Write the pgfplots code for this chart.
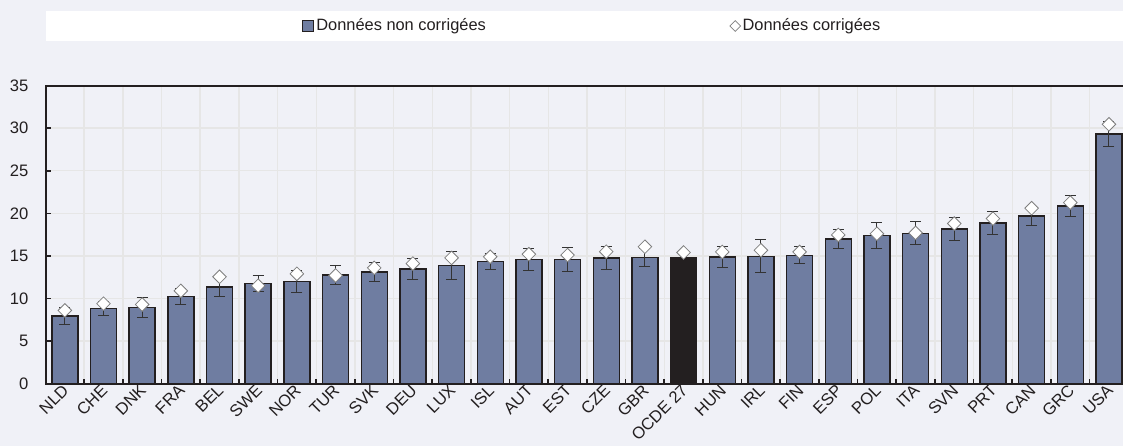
\documentclass[border=0pt]{standalone}
\usepackage{pgfplots}
\pgfplotsset{compat=1.18}
\usepackage{pgfplotstable}
\usepackage{fontspec}
\setmainfont{Liberation Sans}

\definecolor{bg}{HTML}{F0F1F7}
\definecolor{barblue}{HTML}{6F7DA1}
\definecolor{dark}{HTML}{231F20}
\definecolor{gridgray}{HTML}{E6E6E6}
\definecolor{errgray}{HTML}{333333}
\definecolor{markgray}{HTML}{7F7F7F}

\pgfplotsset{
  barlegend/.style={legend image code/.code={%
    \draw[##1, line width=0.5pt] (0pt,-2.75pt) rectangle (5.5pt,2.75pt);}},
  diamondlegend/.style={legend image code/.code={%
    \draw[##1, mark size=1.9pt] plot coordinates {(2.7pt,0pt)};}},
}

% x, uncorrected value, error
\pgfplotstableread{
x  val    err
0  7.95   0.95
1  8.85   0.80
2  8.97   1.15
3  10.27  0.95
4  11.37  1.10
5  11.76  0.92
6  11.99  1.30
7  12.77  1.13
8  13.09  1.10
9  13.44  1.20
10 13.87  1.68
11 14.34  0.95
12 14.57  1.25
13 14.57  1.38
14 14.77  1.38
15 14.84  1.04
17 14.88  1.20
18 14.96  1.92
19 15.08  0.98
20 17.00  1.15
21 17.38  1.52
22 17.66  1.35
23 18.16  1.38
24 18.87  1.38
25 19.69  1.14
26 20.86  1.27
27 29.30  1.45
}\uncorr

\pgfplotstableread{
x  corr
0  8.60
1  9.40
2  9.30
3  10.90
4  12.55
5  11.50
6  12.90
7  12.70
8  13.60
9  14.10
10 14.77
11 14.90
12 15.20
13 15.10
14 15.50
15 16.08
16 15.40
17 15.47
18 15.66
19 15.47
20 17.46
21 17.60
22 17.70
23 18.80
24 19.38
25 20.60
26 21.25
27 30.45
}\corr

\begin{document}
\begin{tikzpicture}[x=1pt,y=1pt]
\fill[bg] (0,0) rectangle (561.5,223);
\useasboundingbox (0,0) rectangle (561.5,223);
\fill[white] (22.75,202.5) rectangle (561.5,217.5);
\begin{axis}[
  at={(22.75pt,31.15pt)}, anchor=south west,
  scale only axis, width=541.4pt, height=149.1pt,
  xmin=-0.5, xmax=27.5, ymin=0, ymax=35,
  axis line style={dark, line width=1pt},
  tick align=inside, xtick pos=bottom, ytick pos=left,
  xtick={0,...,27},
  xticklabels={NLD,CHE,DNK,FRA,BEL,SWE,NOR,TUR,SVK,DEU,LUX,ISL,AUT,EST,CZE,GBR,OCDE 27,HUN,IRL,FIN,ESP,POL,ITA,SVN,PRT,CAN,GRC,USA},
  major x tick style={draw=none},
  minor xtick={0.5,1.5,...,26.5},
  minor x tick style={dark, line width=0.8pt},
  minor tick length=2.5pt,
  minor x grid style={gridgray, line width=0.7pt},
  xminorgrids,
  ytick={0,5,...,35},
  ymajorgrids,
  major y grid style={gridgray, line width=0.7pt},
  major y tick style={dark, line width=0.8pt},
  major tick length=2.5pt,
  tick label style={font=\fontsize{8.3}{9.5}\selectfont, text=dark},
  /pgf/number format/assume math mode=true,
  yticklabel style={xshift=-5pt},
  xticklabel style={xshift=-1.6pt, yshift=1.8pt, rotate=45, anchor=north east, inner sep=1pt},
  legend style={at={(axis description cs:0.505,1.1995)}, anchor=center,
    draw=none, fill=none, legend columns=2,
    font=\fontsize{8.2}{9.5}\selectfont, text=dark,
    nodes={inner sep=1pt},
    /tikz/every even column/.append style={column sep=121pt}},
  legend cell align=left,
]
\addplot[ybar, bar width=13pt, bar shift=0pt, fill=barblue, draw=dark, line width=0.7pt, barlegend,
  error bars/.cd, y dir=both, y explicit,
  error bar style={errgray, line width=0.5pt},
  error mark options={rotate=90, errgray, mark size=2.75pt, line width=0.5pt}]
  table[x=x, y=val, y error=err] {\uncorr};
\addlegendentry{Données non corrigées}
\addplot[ybar, bar width=13pt, bar shift=0pt, fill=dark, draw=dark, line width=0.7pt, forget plot]
  coordinates {(16,14.84)};
\addplot[only marks, mark=square*, mark size=2.4pt,
  mark options={rotate=45, fill=white, draw=markgray, line width=0.4pt}, diamondlegend]
  table[x=x, y=corr] {\corr};
\addlegendentry{Données corrigées}
\end{axis}
\end{tikzpicture}
\end{document}
